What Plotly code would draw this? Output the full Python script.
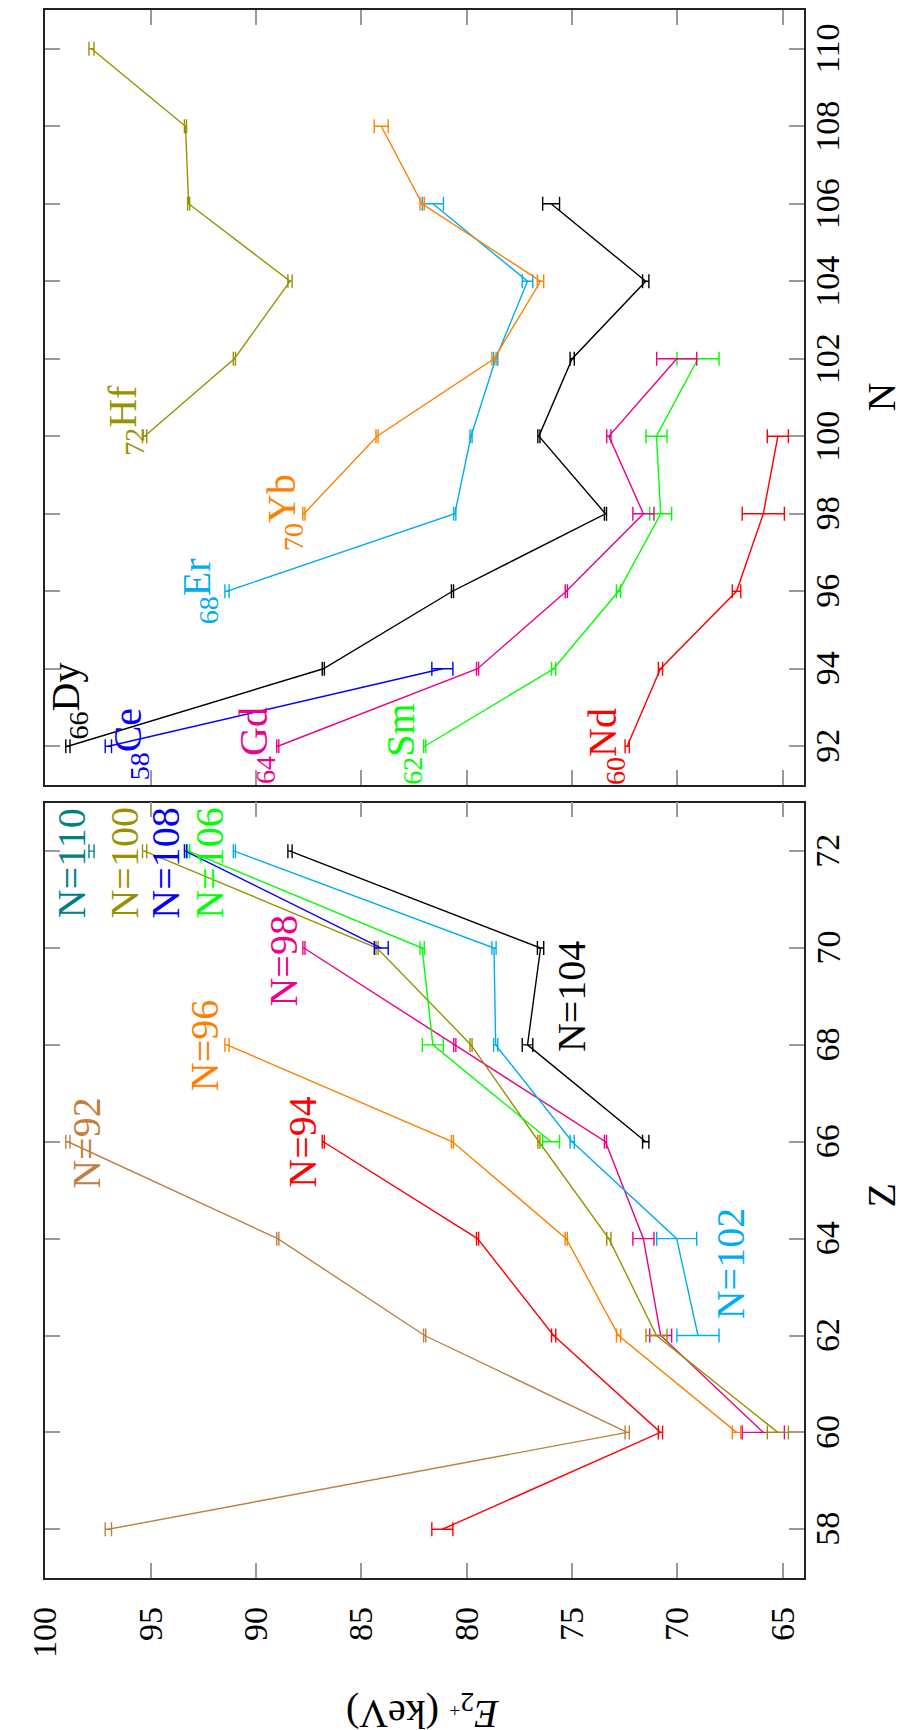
import plotly.graph_objects as go

# ---- data: E(2+) energies in keV, with uncertainties ----
Z_LIST = [58, 60, 62, 64, 66, 68, 70, 72]
SYMBOLS = ["Ce", "Nd", "Sm", "Gd", "Dy", "Er", "Yb", "Hf"]
Z_COLORS = ["#0000FF", "#FF0000", "#00FF00", "#EC008C",
            "#000000", "#00AEEF", "#FF8000", "#9A9100"]

ce_n = [92, 94]
ce_e = [97.00, 81.15]
ce_err = [0.15, 0.50]

nd_n = [92, 94, 96, 98, 100]
nd_e = [72.38, 70.80, 67.19, 65.92, 65.23]
nd_err = [0.10, 0.10, 0.20, 1.00, 0.50]

sm_n = [92, 94, 96, 98, 100, 102]
sm_e = [81.99, 75.87, 72.79, 70.79, 70.99, 69.02]
sm_err = [0.05, 0.10, 0.10, 0.52, 0.50, 1.00]

gd_n = [92, 94, 96, 98, 100, 102]
gd_e = [88.96, 79.48, 75.27, 71.61, 73.25, 70.03]
gd_err = [0.05, 0.05, 0.05, 0.50, 0.10, 0.95]

dy_n = [92, 94, 96, 98, 100, 102, 104, 106]
dy_e = [98.92, 86.80, 80.67, 73.41, 76.57, 74.99, 71.50, 75.99]
dy_err = [0.10, 0.05, 0.05, 0.05, 0.05, 0.10, 0.15, 0.40]

er_n = [96, 98, 100, 102, 104, 106]
er_e = [91.37, 80.56, 79.79, 78.62, 77.11, 81.60]
er_err = [0.10, 0.05, 0.05, 0.10, 0.25, 0.50]

yb_n = [98, 100, 102, 104, 106, 108]
yb_e = [87.72, 84.25, 78.70, 76.49, 82.11, 84.05]
yb_err = [0.05, 0.05, 0.10, 0.15, 0.10, 0.33]

hf_n = [100, 102, 104, 106, 108, 110]
hf_e = [95.28, 91.02, 88.38, 93.19, 93.34, 97.80]
hf_err = [0.10, 0.05, 0.10, 0.05, 0.05, 0.12]

N_LIST = [92, 94, 96, 98, 100, 102, 104, 106, 108, 110]
N_COLORS = ["#BF8040", "#FF0000", "#FF8000", "#EC008C", "#9A9100",
            "#00AEEF", "#000000", "#00FF00", "#0000FF", "#008080"]

E_TICKS = [65, 70, 75, 80, 85, 90, 95, 100]
N_TICKS = [92, 94, 96, 98, 100, 102, 104, 106, 108, 110]
Z_TICKS = [58, 60, 62, 64, 66, 68, 70, 72]

# label placement (E, N) for isotope chains and (E, Z) for isotone chains
ELEM_LABEL_E = [95.99, 73.40, 83.00, 89.97, 98.92, 92.70, 88.69, 96.22]
ELEM_LABEL_N = [92.04, 92.00, 92.05, 92.02, 93.18, 96.00, 98.03, 100.42]
ISO_LABEL_E = [98.01, 87.79, 92.40, 88.69, 96.22, 67.48, 74.99, 92.18, 94.27, 98.75]
ISO_LABEL_Z = [65.96, 65.99, 67.98, 69.73, 71.76, 63.48, 68.99, 71.76, 71.76, 71.76]

chains = [(ce_n, ce_e, ce_err), (nd_n, nd_e, nd_err), (sm_n, sm_e, sm_err),
          (gd_n, gd_e, gd_err), (dy_n, dy_e, dy_err), (er_n, er_e, er_err),
          (yb_n, yb_e, yb_err), (hf_n, hf_e, hf_err)]

FONT = "Liberation Serif"
W, H = 900, 1730
X0, X1 = 26.7, 801.7          # plot area, pixels from left
TOP_Y0, TOP_Y1 = 10.0, 785.0  # upper panel, pixels from top
BOT_Y0, BOT_Y1 = 802.7, 1577.7
YLABEL_X = 826                # centre of the right-hand tick labels

fig = go.Figure()


def add_chain(xs, ys, errs, color, xa, ya):
    fig.add_trace(go.Scatter(
        x=xs, y=ys, mode="lines", xaxis=xa, yaxis=ya,
        line=dict(color=color, width=1.4),
        error_x=dict(type="data", array=errs, visible=True,
                     color=color, thickness=1.4, width=7),
        hoverinfo="skip", showlegend=False))


# upper panel: E versus N, one line per element
for (ns, es, errs), col in zip(chains, Z_COLORS):
    add_chain(es, ns, errs, col, "x", "y")

# lower panel: E versus Z, one line per neutron number
for n, col in zip(N_LIST, N_COLORS):
    zs, es, errs = [], [], []
    for z, (ns, ee, er) in zip(Z_LIST, chains):
        if n in ns:
            i = ns.index(n)
            zs.append(z)
            es.append(ee[i])
            errs.append(er[i])
    add_chain(es, zs, errs, col, "x2", "y2")

common_axis = dict(
    ticks="inside", ticklen=15, tickwidth=1.5, tickcolor="#9a9a9a",
    showline=True, linecolor="#222222", linewidth=1.5, mirror="ticks",
    showgrid=False, zeroline=False,
    tickfont=dict(family=FONT, size=34, color="black"),
)

xdom = [X0 / W, X1 / W]
fig.update_layout(
    width=W, height=H,
    margin=dict(l=0, r=0, t=0, b=0),
    paper_bgcolor="white", plot_bgcolor="white",
    showlegend=False,
    font=dict(family=FONT),
    xaxis=dict(domain=xdom, range=[100, 64], anchor="y",
               tickvals=E_TICKS, showticklabels=False, **common_axis),
    yaxis=dict(domain=[1 - TOP_Y1 / H, 1 - TOP_Y0 / H], range=[91, 111],
               anchor="x", side="right", tickvals=N_TICKS,
               showticklabels=False, **common_axis),
    xaxis2=dict(domain=xdom, range=[100, 64], anchor="y2",
                tickvals=E_TICKS, tickangle=-90, ticklabelstandoff=14,
                **common_axis),
    yaxis2=dict(domain=[1 - BOT_Y1 / H, 1 - BOT_Y0 / H], range=[57, 73],
                anchor="x2", side="right", tickvals=Z_TICKS,
                showticklabels=False, **common_axis),
)

annots = []
# rotated tick labels on the right-hand axes
for v in N_TICKS:
    annots.append(dict(x=YLABEL_X / W, y=v, xref="paper", yref="y",
                       showarrow=False, xanchor="center", yanchor="middle",
                       text=str(v), textangle=-90,
                       font=dict(family=FONT, size=34, color="black")))
for v in Z_TICKS:
    annots.append(dict(x=YLABEL_X / W, y=v, xref="paper", yref="y2",
                       showarrow=False, xanchor="center", yanchor="middle",
                       text=str(v), textangle=-90,
                       font=dict(family=FONT, size=34, color="black")))

for sym, z, col, ex, ny in zip(SYMBOLS, Z_LIST, Z_COLORS, ELEM_LABEL_E, ELEM_LABEL_N):
    annots.append(dict(x=ex, y=ny, xref="x", yref="y", showarrow=False,
                       xanchor="center", yanchor="middle",
                       text=f"<sub>{z}</sub>{sym}", textangle=-90,
                       font=dict(family=FONT, size=40, color=col)))
for n, col, ex, zy in zip(N_LIST, N_COLORS, ISO_LABEL_E, ISO_LABEL_Z):
    annots.append(dict(x=ex, y=zy, xref="x2", yref="y2", showarrow=False,
                       xanchor="center", yanchor="middle",
                       text=f"N={n}", textangle=-90,
                       font=dict(family=FONT, size=40, color=col)))

# axis titles
annots.append(dict(x=881 / W, y=1 - 397 / H, xref="paper", yref="paper",
                   xanchor="center", yanchor="middle",
                   showarrow=False, text="N", textangle=-90,
                   font=dict(family=FONT, size=40, color="black")))
annots.append(dict(x=881 / W, y=1 - 1195 / H, xref="paper", yref="paper",
                   xanchor="center", yanchor="middle",
                   showarrow=False, text="Z", textangle=-90,
                   font=dict(family=FONT, size=40, color="black")))
annots.append(dict(x=412 / W, y=1 - 1712 / H, xref="paper", yref="paper",
                   xanchor="center", yanchor="middle",
                   showarrow=False, text="<i>E</i><sub>2<sup>+</sup></sub> (keV)",
                   textangle=180,
                   font=dict(family=FONT, size=40, color="black")))

fig.update_layout(annotations=annots)
fig.write_html("out.html")
